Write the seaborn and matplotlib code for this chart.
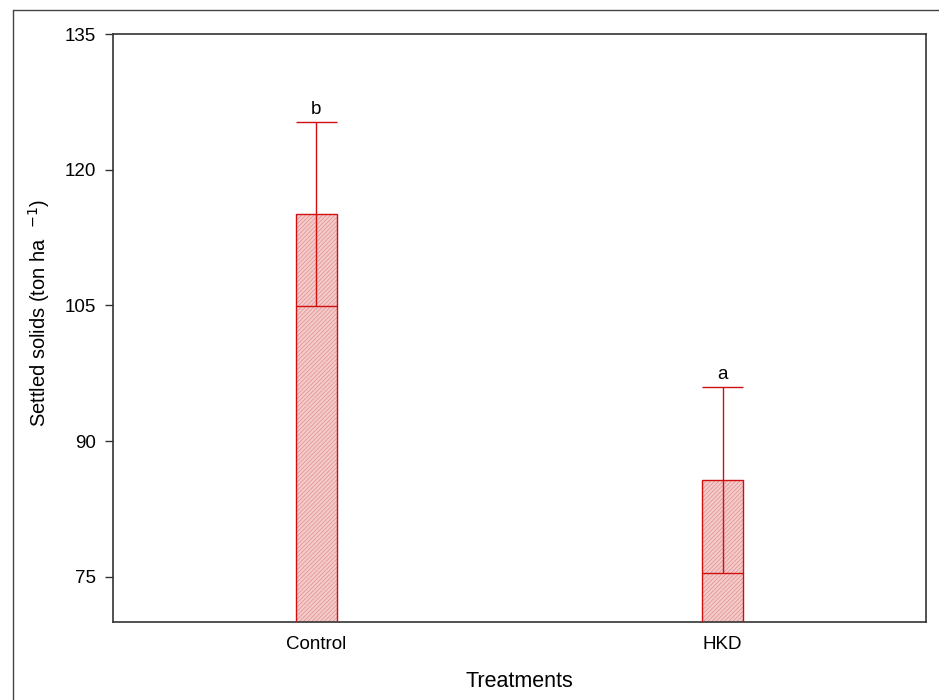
import matplotlib
matplotlib.use("Agg")
import matplotlib.pyplot as plt
from matplotlib.lines import Line2D
from matplotlib.patches import Rectangle
import seaborn as sns
import pandas as pd
import numpy as np

treatments = ["Control", "HKD"]
means = [115.1, 85.7]
sds = [10.2, 10.3]
letters = ["b", "a"]
yticks = [75, 90, 105, 120, 135]

sns.set_style("white")
plt.rcParams["font.family"] = ["Liberation Sans", "DejaVu Sans"]
plt.rcParams["hatch.linewidth"] = 0.5
plt.rcParams["text.color"] = "black"
plt.rcParams["axes.labelcolor"] = "black"
plt.rcParams["xtick.color"] = "black"
plt.rcParams["ytick.color"] = "black"

df = pd.DataFrame({"Treatment": treatments, "Mean": means})

fig = plt.figure(figsize=(9.39, 7.0), dpi=100)
ax = fig.add_axes([0.1203, 0.1114, 0.8658, 0.84])

red = "#d01010"
# fine-hatched pink fill
sns.barplot(data=df, x="Treatment", y="Mean", ax=ax, width=0.1,
            color="#f5caca", edgecolor="#e09090", linewidth=0, hatch="////////",
            errorbar=None, saturation=1)
# solid red outlines over the hatched fill
for p in list(ax.patches):
    ax.add_patch(Rectangle(p.get_xy(), p.get_width(), p.get_height(),
                           fill=False, edgecolor=red, lw=1.0, zorder=3))

m = np.array(means)
s = np.array(sds)
lower, upper = m - s, m + s
xs = np.arange(len(treatments))
half = 0.05
ax.vlines(xs, lower, upper, color=red, lw=1.0, zorder=4)
ax.hlines(upper, xs - half, xs + half, color=red, lw=1.0, zorder=4)
ax.hlines(lower, xs - half, xs + half, color=red, lw=1.0, zorder=4)
for x, u, t in zip(xs, upper, letters):
    ax.text(x, u + 0.4, t, ha="center", va="bottom", fontsize=13.5, color="black")

ax.set_xlim(-0.5, 1.5)
ax.set_ylim(70, 135)
ax.set_yticks(yticks)
ax.set_yticklabels([str(v) for v in yticks], fontsize=13.5)
ax.tick_params(axis="x", length=0, labelsize=13.5, pad=10, labelcolor="black")
ax.tick_params(axis="y", left=True, length=6, width=1, direction="out", pad=6,
               color="#333333", labelcolor="black")
for sp in ax.spines.values():
    sp.set_color("#333333")
    sp.set_linewidth(1.2)

ax.set_xlabel("Treatments", fontsize=15.5, labelpad=13, color="black")
ax.set_ylabel("Settled solids (ton ha  $^{-1}$)", fontsize=14.5, labelpad=4,
              color="black")
ax.yaxis.set_label_coords(-0.075, 0.525)

# outer frame lines
fig.add_artist(Line2D([13 / 939, 13 / 939], [0, 1 - 10 / 700],
                      transform=fig.transFigure, color="#444444", lw=1))
fig.add_artist(Line2D([13 / 939, 1], [1 - 10 / 700, 1 - 10 / 700],
                      transform=fig.transFigure, color="#444444", lw=1))

fig.savefig("out.png", dpi=100)
